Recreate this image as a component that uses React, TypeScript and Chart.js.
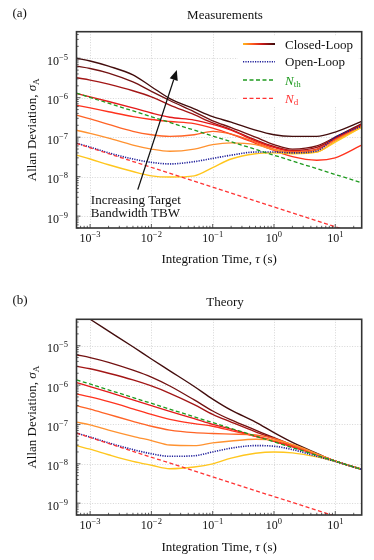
import React, { useEffect, useRef } from 'react';
import { Chart, registerables } from 'chart.js';

Chart.register(...registerables);

// ---------------- data ----------------
const tau = [6e-4, 1e-3, 2e-3, 5e-3, 1e-2, 2e-2, 5e-2, 0.1, 0.2, 0.5, 1, 2, 5, 10, 27];

// (a) Measurements — closed loop, TBW increasing 1 → 8
const measTBW1 = [3.5e-8, 2.8e-8, 2.0e-8, 1.35e-8, 1.05e-8, 9.8e-9, 1.05e-8, 1.7e-8, 2.8e-8, 3.8e-8, 4.0e-8, 3.8e-8, 4.2e-8, 7.5e-8, 1.8e-7];
const measTBW2 = [1.5e-7, 1.25e-7, 9.5e-8, 6.3e-8, 5.0e-8, 4.4e-8, 5.0e-8, 6.5e-8, 7.2e-8, 6.5e-8, 4.8e-8, 4.0e-8, 4.2e-8, 8.0e-8, 1.8e-7];
const measTBW3 = [3.6e-7, 2.9e-7, 2.1e-7, 1.4e-7, 1.15e-7, 1.05e-7, 1.15e-7, 1.4e-7, 1.2e-7, 7.5e-8, 5.0e-8, 4.2e-8, 4.8e-8, 8.5e-8, 1.9e-7];
const measTBW4 = [6.4e-7, 5.5e-7, 4.4e-7, 3.3e-7, 2.8e-7, 2.5e-7, 2.2e-7, 1.7e-7, 1.2e-7, 7.0e-8, 4.6e-8, 3.2e-8, 2.6e-8, 3.0e-8, 6.3e-8];
const measTBW5 = [1.27e-6, 1.05e-6, 8.0e-7, 5.5e-7, 4.1e-7, 3.2e-7, 2.7e-7, 2.1e-7, 1.5e-7, 8.0e-8, 5.5e-8, 4.4e-8, 5.0e-8, 9.0e-8, 2.0e-7];
const measTBW6 = [3.2e-6, 2.8e-6, 2.2e-6, 1.5e-6, 1.05e-6, 6.5e-7, 3.7e-7, 2.3e-7, 1.55e-7, 8.5e-8, 5.8e-8, 4.6e-8, 5.5e-8, 9.5e-8, 2.1e-7];
const measTBW7 = [6.3e-6, 5.5e-6, 4.2e-6, 2.5e-6, 1.45e-6, 8.5e-7, 4.4e-7, 2.6e-7, 1.75e-7, 1.0e-7, 6.5e-8, 5.0e-8, 6.0e-8, 1.0e-7, 2.2e-7];
const measTBW8 = [1.0e-5, 8.5e-6, 6.3e-6, 3.8e-6, 1.9e-6, 9.5e-7, 5.2e-7, 3.3e-7, 2.4e-7, 1.5e-7, 1.15e-7, 1.05e-7, 1.05e-7, 1.35e-7, 2.5e-7];
const measOpenLoop = [7e-8, 5.6e-8, 4.0e-8, 2.8e-8, 2.3e-8, 2.1e-8, 2.4e-8, 2.9e-8, 3.5e-8, 4.2e-8, 4.2e-8, 4.0e-8, 4.5e-8, 1.0e-7, 1.9e-7];
const measNthTau = [6.02e-4, 27];
const measNth = [1.3e-6, 7.0e-9];
const measNdTau = [6.02e-4, 12];
const measNd = [7e-8, 4.9e-10];

// (b) Theory — closed loop, TBW increasing 1 → 8
const theoTBW1 = [2.9e-8, 2.35e-8, 1.7e-8, 1.15e-8, 9.2e-9, 7.5e-9, 8.3e-9, 1.0e-8, 1.4e-8, 1.85e-8, 2.0e-8, 1.9e-8, 1.5e-8, 1.15e-8, 7.2e-9];
const theoTBW2 = [1.14e-7, 9.8e-8, 7.2e-8, 5.0e-8, 3.9e-8, 3.0e-8, 2.9e-8, 3.4e-8, 3.8e-8, 4.2e-8, 4.0e-8, 3.1e-8, 1.8e-8, 1.17e-8, 7.2e-9];
const theoTBW3 = [3.0e-7, 2.45e-7, 1.8e-7, 1.2e-7, 9.0e-8, 7.2e-8, 6.2e-8, 5.9e-8, 5.7e-8, 5.4e-8, 4.4e-8, 3.0e-8, 1.75e-8, 1.17e-8, 7.2e-9];
const theoTBW4 = [6.0e-7, 5.0e-7, 3.8e-7, 2.5e-7, 1.8e-7, 1.35e-7, 1.05e-7, 9.0e-8, 7.0e-8, 5.0e-8, 3.9e-8, 2.75e-8, 1.7e-8, 1.17e-8, 7.2e-9];
const theoTBW5 = [1.16e-6, 9.2e-7, 6.6e-7, 4.2e-7, 3.0e-7, 2.15e-7, 1.4e-7, 1.0e-7, 7.6e-8, 5.0e-8, 3.7e-8, 2.7e-8, 1.7e-8, 1.17e-8, 7.2e-9];
const theoTBW6 = [3.0e-6, 2.6e-6, 2.0e-6, 1.35e-6, 9.5e-7, 6.2e-7, 3.2e-7, 1.8e-7, 1.15e-7, 6.5e-8, 4.4e-8, 2.9e-8, 1.75e-8, 1.17e-8, 7.2e-9];
const theoTBW7 = [5.9e-6, 5.0e-6, 3.8e-6, 2.4e-6, 1.6e-6, 9.5e-7, 4.2e-7, 2.2e-7, 1.3e-7, 7.2e-8, 4.6e-8, 3.0e-8, 1.75e-8, 1.17e-8, 7.2e-9];
const theoTBW8 = [7.8e-5, 4.7e-5, 2.35e-5, 9.4e-6, 4.6e-6, 2.3e-6, 9.2e-7, 4.4e-7, 2.3e-7, 1.15e-7, 6.2e-8, 3.5e-8, 1.85e-8, 1.17e-8, 7.2e-9];
const theoOpenLoop = [6e-8, 4.8e-8, 3.4e-8, 2.3e-8, 1.8e-8, 1.55e-8, 1.6e-8, 2.0e-8, 2.5e-8, 2.9e-8, 2.8e-8, 2.3e-8, 1.55e-8, 1.15e-8, 7.2e-9];
const theoNthTau = [6.02e-4, 27];
const theoNth = [1.36e-6, 7.2e-9];
const theoNdTau = [6.02e-4, 12];
const theoNd = [6e-8, 4.25e-10];

// axes
const xRange = [6.02e-4, 27.0];
const yRange = [5.0e-10, 4.7e-5];
const xTickExps = [-3, -2, -1, 0, 1];
const yTickExps = [-9, -8, -7, -6, -5];

// legend / annotation text
const legendLabels = ['Closed-Loop', 'Open-Loop'];
const noiseSubs = ['th', 'd'];
const arrowTail = [6.0e-3, 4.7e-9];
const arrowHead = [0.026, 5.0e-6];
const noteAnchor = [1.027e-3, 2.05e-9];
const noteLines = ['Increasing Target', 'Bandwidth TBW'];

// ---------------- styles ----------------
const closedColors = ['#ffc61e', '#ff9230', '#ff6426', '#ff331e', '#e41a1a', '#a31616', '#731212', '#430d0d'];
const openColor = '#1e1e9a';
const nThColor = '#1f9a1f';
const nDColor = '#ff3333';
const FONT = '"Liberation Serif", "Times New Roman", serif';
const F13 = `13px ${FONT}`;
const F13I = `italic 13px ${FONT}`;
const F9 = `9px ${FONT}`;

type Part = { t: string; f: string; dy?: number; c?: string };

function drawParts(ctx: CanvasRenderingContext2D, parts: Part[], x: number, y: number, align: 'left' | 'center' | 'right') {
  let w = 0;
  for (const p of parts) { ctx.font = p.f; w += ctx.measureText(p.t).width; }
  let cx = align === 'left' ? x : align === 'center' ? x - w / 2 : x - w;
  ctx.textBaseline = 'alphabetic';
  ctx.textAlign = 'left';
  for (const p of parts) {
    ctx.font = p.f;
    if (p.c) ctx.fillStyle = p.c;
    ctx.fillText(p.t, cx, y + (p.dy || 0));
    cx += ctx.measureText(p.t).width;
  }
}

type PanelCfg = {
  tag: string; title: string; tagY: number; titleY: number; xLabelDy: number;
  legend: boolean; arrow: boolean; padTop: number; padBottom: number; height: number;
  closed: number[][]; open: number[]; nthTau: number[]; nth: number[]; ndTau: number[]; nd: number[];
};

const isDecadeIn = (v: number, min: number, max: number) => v >= min * 0.999 && v <= max * 1.001;

function makePlugin(cfg: PanelCfg) {
  return {
    id: 'panelDeco',
    beforeDatasetsDraw(chart: any) {
      const { ctx, chartArea: ca, scales } = chart;
      const xs = scales.x, ys = scales.y;
      ctx.save();
      ctx.strokeStyle = '#cccccc';
      ctx.lineWidth = 0.8;
      ctx.setLineDash([1, 1.6]);
      for (const e of xTickExps) {
        const px = Math.round(xs.getPixelForValue(Math.pow(10, e))) + 0.5;
        ctx.beginPath(); ctx.moveTo(px, ca.top); ctx.lineTo(px, ca.bottom); ctx.stroke();
      }
      for (const e of yTickExps) {
        const py = Math.round(ys.getPixelForValue(Math.pow(10, e))) + 0.5;
        ctx.beginPath(); ctx.moveTo(ca.left, py); ctx.lineTo(ca.right, py); ctx.stroke();
      }
      ctx.restore();
    },
    afterDatasetsDraw(chart: any) {
      const { ctx, chartArea: ca, scales } = chart;
      const xs = scales.x, ys = scales.y;
      ctx.save();
      // minor/major inward ticks
      ctx.strokeStyle = '#333';
      ctx.lineWidth = 0.8;
      for (let e = -4; e <= 2; e++) {
        for (let k = 1; k <= 9; k++) {
          const v = k * Math.pow(10, e);
          if (!isDecadeIn(v, xRange[0], xRange[1])) continue;
          const px = xs.getPixelForValue(v);
          const len = k === 1 ? 4 : 2.2;
          ctx.beginPath(); ctx.moveTo(px, ca.bottom); ctx.lineTo(px, ca.bottom - len); ctx.stroke();
        }
      }
      for (let e = -10; e <= -4; e++) {
        for (let k = 1; k <= 9; k++) {
          const v = k * Math.pow(10, e);
          if (!isDecadeIn(v, yRange[0], yRange[1])) continue;
          const py = ys.getPixelForValue(v);
          const len = k === 1 ? 4 : 2.2;
          ctx.beginPath(); ctx.moveTo(ca.left, py); ctx.lineTo(ca.left + len, py); ctx.stroke();
        }
      }
      // frame
      ctx.strokeStyle = '#333';
      ctx.lineWidth = 1.6;
      ctx.strokeRect(ca.left, ca.top, ca.right - ca.left, ca.bottom - ca.top);

      // tick labels
      ctx.fillStyle = '#111';
      for (const e of xTickExps) {
        const px = xs.getPixelForValue(Math.pow(10, e));
        drawParts(ctx, [{ t: '10', f: `12px ${FONT}` }, { t: (e < 0 ? '\u2212' : '') + Math.abs(e), f: `8.5px ${FONT}`, dy: -5 }], px, ca.bottom + 14, 'center');
      }
      for (const e of yTickExps) {
        const py = ys.getPixelForValue(Math.pow(10, e));
        drawParts(ctx, [{ t: '10', f: `12px ${FONT}` }, { t: '\u2212' + Math.abs(e), f: `8.5px ${FONT}`, dy: -5 }], ca.left - 8.5, py + 6.5, 'right');
      }

      // titles
      ctx.fillStyle = '#111';
      drawParts(ctx, [{ t: cfg.tag, f: F13 }], 12.5, cfg.tagY, 'left');
      drawParts(ctx, [{ t: cfg.title, f: F13 }], 225, cfg.titleY, 'center');

      // x label
      drawParts(ctx, [{ t: 'Integration Time, ', f: F13 }, { t: '\u03c4', f: F13I }, { t: ' (s)', f: F13 }], (ca.left + ca.right) / 2, ca.bottom + cfg.xLabelDy, 'center');
      // y label
      ctx.save();
      ctx.translate(35.5, (ca.top + ca.bottom) / 2);
      ctx.rotate(-Math.PI / 2);
      drawParts(ctx, [{ t: 'Allan Deviation, ', f: F13 }, { t: '\u03c3', f: F13I }, { t: 'A', f: F9, dy: 3 }], 0, 0, 'center');
      ctx.restore();

      if (cfg.legend) {
        const bx = ca.right - 124, by = ca.top + 4;
        ctx.fillStyle = '#ffffff';
        ctx.fillRect(bx, by, 121, 71);
        const sx0 = ca.right - 118.7, sx1 = ca.right - 86.7, tx = ca.right - 76.7;
        const rows = [ca.top + 12.3, ca.top + 30, ca.top + 48.3, ca.top + 66.6];
        // closed loop gradient
        const g = ctx.createLinearGradient(sx0, 0, sx1, 0);
        g.addColorStop(0, '#ffb81c');
        g.addColorStop(0.3, '#ff5a20');
        g.addColorStop(0.6, '#c81818');
        g.addColorStop(1, '#3a0b0b');
        ctx.setLineDash([]);
        ctx.lineWidth = 2;
        ctx.strokeStyle = g;
        ctx.beginPath(); ctx.moveTo(sx0, rows[0]); ctx.lineTo(sx1, rows[0]); ctx.stroke();
        // open loop
        ctx.strokeStyle = openColor;
        ctx.lineWidth = 1.6;
        ctx.setLineDash([1.2, 1.2]);
        ctx.beginPath(); ctx.moveTo(sx0, rows[1]); ctx.lineTo(sx1, rows[1]); ctx.stroke();
        // N_th
        ctx.setLineDash([4, 2.5]);
        ctx.lineWidth = 1.3;
        ctx.strokeStyle = nThColor;
        ctx.beginPath(); ctx.moveTo(sx0, rows[2]); ctx.lineTo(sx1, rows[2]); ctx.stroke();
        ctx.strokeStyle = nDColor;
        ctx.beginPath(); ctx.moveTo(sx0, rows[3]); ctx.lineTo(sx1, rows[3]); ctx.stroke();
        ctx.setLineDash([]);
        ctx.fillStyle = '#111';
        drawParts(ctx, [{ t: legendLabels[0], f: F13 }], tx, rows[0] + 4.5, 'left');
        drawParts(ctx, [{ t: legendLabels[1], f: F13 }], tx, rows[1] + 4.5, 'left');
        drawParts(ctx, [{ t: 'N', f: F13I, c: nThColor }, { t: noiseSubs[0], f: F9, dy: 2.5, c: nThColor }], tx, rows[2] + 4.5, 'left');
        drawParts(ctx, [{ t: 'N', f: F13I, c: nDColor }, { t: noiseSubs[1], f: F9, dy: 2.5, c: nDColor }], tx, rows[3] + 4.5, 'left');
      }

      if (cfg.arrow) {
        const x0 = xs.getPixelForValue(arrowTail[0]), y0 = ys.getPixelForValue(arrowTail[1]);
        const x1 = xs.getPixelForValue(arrowHead[0]), y1 = ys.getPixelForValue(arrowHead[1]);
        const ang = Math.atan2(y1 - y0, x1 - x0);
        const hl = 10, hw = 4.2;
        const bxh = x1 - hl * Math.cos(ang), byh = y1 - hl * Math.sin(ang);
        ctx.strokeStyle = '#111';
        ctx.fillStyle = '#111';
        ctx.lineWidth = 1.3;
        ctx.setLineDash([]);
        ctx.beginPath(); ctx.moveTo(x0, y0); ctx.lineTo(bxh, byh); ctx.stroke();
        ctx.beginPath();
        ctx.moveTo(x1, y1);
        ctx.lineTo(bxh + hw * Math.sin(ang), byh - hw * Math.cos(ang));
        ctx.lineTo(bxh - hw * Math.sin(ang), byh + hw * Math.cos(ang));
        ctx.closePath(); ctx.fill();
        const nx = xs.getPixelForValue(noteAnchor[0]), ny = ys.getPixelForValue(noteAnchor[1]);
        drawParts(ctx, [{ t: noteLines[0], f: F13 }], nx, ny, 'left');
        drawParts(ctx, [{ t: noteLines[1], f: F13 }], nx, ny + 13.3, 'left');
      }
      ctx.restore();
    },
  };
}

function buildDatasets(cfg: PanelCfg) {
  const pts = (xs: number[], ys: number[]) => xs.map((x, i) => ({ x, y: ys[i] }));
  const bottomToTop: any[] = [];
  for (let i = cfg.closed.length - 1; i >= 0; i--) {
    bottomToTop.push({
      data: pts(tau, cfg.closed[i]), borderColor: closedColors[i], borderWidth: 1.35,
      pointRadius: 0, cubicInterpolationMode: 'monotone', capBezierPoints: false, fill: false,
    });
  }
  bottomToTop.push({
    data: pts(tau, cfg.open), borderColor: openColor, borderWidth: 1.6, borderDash: [1.2, 1.2],
    pointRadius: 0, cubicInterpolationMode: 'monotone', capBezierPoints: false, fill: false,
  });
  bottomToTop.push({
    data: pts(cfg.nthTau, cfg.nth), borderColor: nThColor, borderWidth: 1.3, borderDash: [4, 2.5],
    pointRadius: 0, fill: false,
  });
  bottomToTop.push({
    data: pts(cfg.ndTau, cfg.nd), borderColor: nDColor, borderWidth: 1.3, borderDash: [4, 2.5],
    pointRadius: 0, fill: false,
  });
  return bottomToTop.reverse();
}

const panelA: PanelCfg = {
  tag: '(a)', title: 'Measurements', tagY: 16.8, titleY: 19.2, xLabelDy: 34.5,
  legend: true, arrow: true, padTop: 31.7, padBottom: 60, height: 288,
  closed: [measTBW1, measTBW2, measTBW3, measTBW4, measTBW5, measTBW6, measTBW7, measTBW8],
  open: measOpenLoop, nthTau: measNthTau, nth: measNth, ndTau: measNdTau, nd: measNd,
};

const panelB: PanelCfg = {
  tag: '(b)', title: 'Theory', tagY: 15.5, titleY: 17.5, xLabelDy: 35.5,
  legend: false, arrow: false, padTop: 31.3, padBottom: 45, height: 272,
  closed: [theoTBW1, theoTBW2, theoTBW3, theoTBW4, theoTBW5, theoTBW6, theoTBW7, theoTBW8],
  open: theoOpenLoop, nthTau: theoNthTau, nth: theoNth, ndTau: theoNdTau, nd: theoNd,
};

function Panel({ cfg }: { cfg: PanelCfg }) {
  const ref = useRef<HTMLCanvasElement>(null);
  useEffect(() => {
    const canvas = ref.current;
    if (!canvas) return;
    const chart = new Chart(canvas, {
      type: 'line',
      data: { datasets: buildDatasets(cfg) },
      options: {
        animation: false,
        responsive: false,
        devicePixelRatio: 1,
        events: [],
        layout: { padding: { left: 76.5, right: 12.3, top: cfg.padTop, bottom: cfg.padBottom } },
        plugins: { legend: { display: false }, tooltip: { enabled: false }, title: { display: false } },
        scales: {
          x: {
            type: 'logarithmic', min: xRange[0], max: xRange[1],
            ticks: { display: false }, grid: { display: false }, border: { display: false },
            afterFit: (s: any) => { s.height = 0; },
          },
          y: {
            type: 'logarithmic', min: yRange[0], max: yRange[1],
            ticks: { display: false }, grid: { display: false }, border: { display: false },
            afterFit: (s: any) => { s.width = 0; },
          },
        },
      } as any,
      plugins: [makePlugin(cfg) as any],
    });
    return () => chart.destroy();
  }, []);
  return <canvas ref={ref} width={374} height={cfg.height} style={{ display: 'block', width: 374, height: cfg.height }} />;
}

export default function App() {
  return (
    <div style={{ position: 'absolute', left: 0, top: 0, width: 374, height: 560, background: '#ffffff' }}>
      <Panel cfg={panelA} />
      <Panel cfg={panelB} />
    </div>
  );
}
